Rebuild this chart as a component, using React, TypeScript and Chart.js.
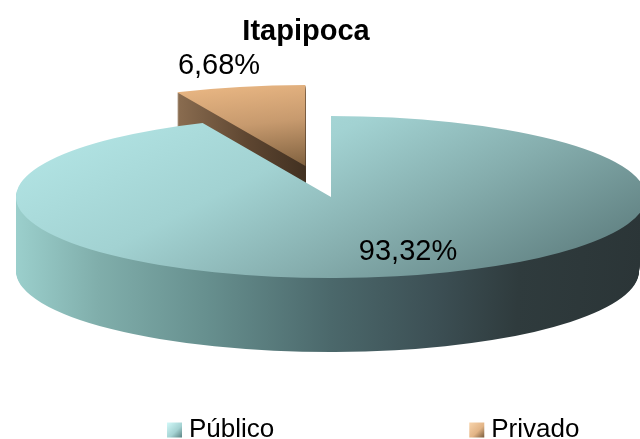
import React, { useEffect, useRef } from "react";
import { Chart, registerables } from "chart.js";

Chart.register(...registerables);

const chartTitle = "Itapipoca";
const categories = ["Público", "Privado"];
const shares = [93.32, 6.68];

const FONT = "'Liberation Sans', Arial, sans-serif";
const CENTER = { x: 331, y: 197 };
const RADII = { x: 315, y: 81 };
const DEPTH = 74;
const TAPER = 7;
const EXPLODE = [0, 0.39];
const LABEL_SPOTS = [
  { x: 408, y: 252 },
  { x: 219, y: 66 },
];

type Stop = [number, string];
const topStops: Stop[][] = [
  [[0, "#b2e4e4"], [0.35, "#a2d2d2"], [0.65, "#85adad"], [1, "#5f7f80"]],
  [[0, "#ecb985"], [0.5, "#c79a6e"], [1, "#80613f"]],
];
const sideStops: Stop[][] = [
  [[0, "#9bcfcc"], [0.13, "#80aeab"], [0.3, "#67908f"], [0.5, "#4b686b"], [0.67, "#3c4f54"], [0.8, "#2f3b3d"], [1, "#2b3537"]],
  [[0, "#8d6f52"], [0.5, "#5e4631"], [1, "#3a2b1d"]],
];
const legendStops: Stop[][] = [
  [[0, "#d4fbfb"], [0.6, "#a4d2d2"], [1, "#5c8585"]],
  [[0, "#f9d6ae"], [0.6, "#e2b486"], [1, "#7d5f3f"]],
];

function grad(ctx: CanvasRenderingContext2D, x0: number, y0: number, x1: number, y1: number, stops: Stop[]) {
  const g = ctx.createLinearGradient(x0, y0, x1, y1);
  stops.forEach(([p, c]) => g.addColorStop(p, c));
  return g;
}

const pie3d = {
  id: "pie3d",
  beforeDraw(chart: any) {
    const { ctx, legend, titleBlock } = chart;
    titleBlock.right = titleBlock.left + 612;
    titleBlock.top = 2;
    const pad = legend.options.labels.padding;
    legend.left = 173 - pad;
    legend.right = 1200;
    legend.top = 417 - pad;
    legend.bottom = 439;
    (legend.legendItems || []).forEach((item: any, i: number) => {
      const x = i === 0 ? 167 : 469;
      const g = grad(ctx, x, 422, x + 15, 437, legendStops[i]);
      item.fillStyle = g;
      item.strokeStyle = g;
      item.lineWidth = 12;
    });
  },
  beforeDatasetDraw(chart: any) {
    const { ctx } = chart;
    const arcs = chart.getDatasetMeta(0).data;
    const R = arcs[0].outerRadius;
    const cx = arcs[0].x;
    const cy = arcs[0].y;
    const paint = (el: any, i: number, dy: number, fill: any, rx: number) => {
      const clone = Object.create(el);
      clone.options = Object.assign({}, el.options, { backgroundColor: fill, borderWidth: 0 });
      const mid = (el.startAngle + el.endAngle) / 2;
      ctx.save();
      ctx.translate(CENTER.x, CENTER.y + dy);
      ctx.scale(rx / R, RADII.y / R);
      ctx.translate(-cx + Math.cos(mid) * EXPLODE[i] * R, -cy + Math.sin(mid) * EXPLODE[i] * R);
      clone.draw(ctx);
      ctx.restore();
    };
    const paintSide = (i: number, d: number, fill: any) => {
      // left half keeps its full width; the right half narrows as it goes down
      ctx.save();
      ctx.beginPath();
      ctx.rect(0, 0, CENTER.x, chart.height);
      ctx.clip();
      paint(arcs[i], i, d, fill, RADII.x);
      ctx.restore();
      ctx.save();
      ctx.beginPath();
      ctx.rect(CENTER.x, 0, chart.width - CENTER.x, chart.height);
      ctx.clip();
      paint(arcs[i], i, d, fill, RADII.x - (TAPER * d) / DEPTH);
      ctx.restore();
    };
    [1, 0].forEach((i) => {
      const side = i === 0
        ? grad(ctx, cx - R, cy, cx + R, cy, sideStops[i])
        : grad(ctx, cx - R * 0.42, cy, cx + R * 0.05, cy, sideStops[i]);
      const face = i === 0
        ? grad(ctx, cx - R, cy - R * 0.5, cx + R, cy + R * 0.5, topStops[i])
        : grad(ctx, cx - R * 0.42, cy - R, cx, cy, topStops[i]);
      for (let d = DEPTH; d > 0; d--) paintSide(i, d, side);
      paint(arcs[i], i, 0, face, RADII.x);
    });
    return false;
  },
  afterDraw(chart: any) {
    const { ctx } = chart;
    ctx.save();
    ctx.font = `29px ${FONT}`;
    ctx.fillStyle = "#000";
    ctx.textAlign = "center";
    ctx.textBaseline = "middle";
    shares.forEach((v, i) => {
      ctx.fillText(`${v.toFixed(2).replace(".", ",")}%`, LABEL_SPOTS[i].x, LABEL_SPOTS[i].y);
    });
    ctx.restore();
  },
};

export default function App() {
  const ref = useRef<HTMLCanvasElement>(null);
  useEffect(() => {
    document.body.style.margin = "0";
    const chart = new Chart(ref.current as HTMLCanvasElement, {
      type: "pie",
      data: {
        labels: categories,
        datasets: [
          {
            data: shares,
            backgroundColor: ["#9ccccc", "#c79a6e"],
            borderWidth: 0,
          },
        ],
      },
      options: {
        responsive: false,
        animation: false,
        layout: { padding: 0 },
        plugins: {
          title: {
            display: true,
            text: chartTitle,
            color: "#000",
            font: { family: FONT, size: 29, weight: "bold" },
            padding: { top: 13, bottom: 0 },
          },
          legend: {
            display: true,
            position: "bottom",
            align: "start",
            maxHeight: 40,
            labels: {
              color: "#000",
              font: { family: FONT, size: 26 },
              boxWidth: 3,
              boxHeight: 3,
              padding: 201,
            },
          },
          tooltip: { enabled: false },
        },
      },
      plugins: [pie3d],
    } as any);
    return () => chart.destroy();
  }, []);
  return <canvas ref={ref} width={640} height={439} style={{ display: "block" }} />;
}
